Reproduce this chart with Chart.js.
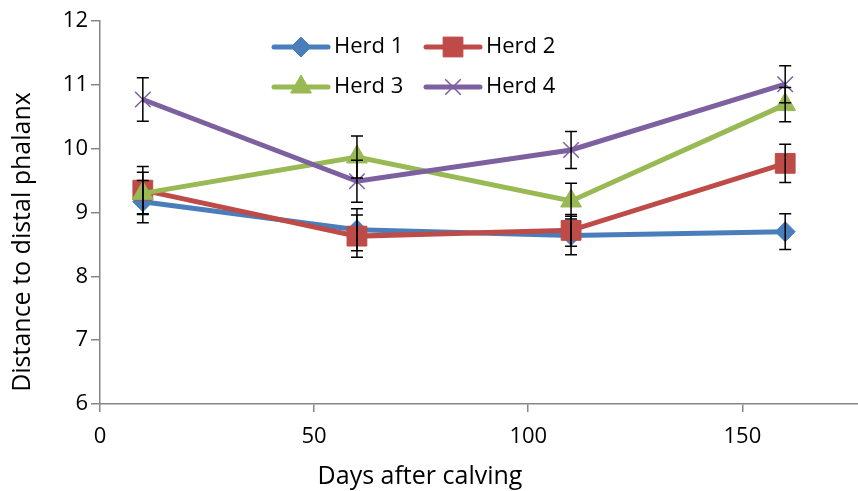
<!DOCTYPE html>
<html>
<head>
<meta charset="utf-8">
<script src="https://cdn.jsdelivr.net/npm/chart.js@4.4.0/dist/chart.umd.min.js"></script>
<style>
    html, body { margin: 0; padding: 0; background: #fff; }
    #wrap { width: 858px; height: 491px; position: relative; }
</style>
</head>
<body>
<div id="wrap"><canvas id="chart"></canvas></div>
<script>
// data
const days = [10, 60, 110, 160];
const herd1 = [9.17, 8.73, 8.64, 8.70];
const herd2 = [9.35, 8.63, 8.72, 9.77];
const herd3 = [9.30, 9.87, 9.18, 10.69];
const herd4 = [10.77, 9.49, 9.98, 11.01];
const err1 = [0.33, 0.33, 0.30, 0.28];
const err2 = [0.37, 0.33, 0.25, 0.30];
const err3 = [0.33, 0.33, 0.28, 0.27];
const err4 = [0.34, 0.33, 0.29, 0.29];
const seriesNames = ['Herd 1', 'Herd 2', 'Herd 3', 'Herd 4'];
const xTicks = [0, 50, 100, 150];
const yTicks = [6, 7, 8, 9, 10, 11, 12];
const xTitle = 'Days after calving';
const yTitle = 'Distance to distal phalanx';

const AXIS_COLOR = '#868686';
const FONT = "'Open Sans', sans-serif";
const STYLES = [
    { color: '#4a7ebb', pointStyle: 'rectRot', radius: 10, border: 1 },
    { color: '#be4b48', pointStyle: 'rect', radius: 14, border: 1 },
    { color: '#98b954', pointStyle: 'triangle', radius: 12, border: 1 },
    { color: '#7d60a0', pointStyle: 'crossRot', radius: 11, border: 1.5 }
];

const values = [herd1, herd2, herd3, herd4];
const errors = [err1, err2, err3, err4];

Chart.defaults.font.family = FONT;
Chart.defaults.font.size = 22;
Chart.defaults.color = '#000';

const datasets = values.map((vals, i) => ({
    label: seriesNames[i],
    data: days.map((d, j) => ({ x: d, y: vals[j] })),
    borderColor: STYLES[i].color,
    backgroundColor: STYLES[i].color,
    borderWidth: 5,
    pointStyle: STYLES[i].pointStyle,
    pointRadius: STYLES[i].radius,
    pointBorderWidth: STYLES[i].border,
    pointBackgroundColor: STYLES[i].color,
    pointBorderColor: STYLES[i].color,
    tension: 0,
    order: 4 - i
}));

const errorBars = {
    id: 'errorBars',
    afterDatasetsDraw(chart) {
        const { ctx, scales: { x, y } } = chart;
        ctx.save();
        ctx.strokeStyle = '#000';
        ctx.lineWidth = 1.5;
        errors.forEach((errs, i) => {
            days.forEach((d, j) => {
                const px = x.getPixelForValue(d);
                const top = y.getPixelForValue(values[i][j] + errs[j]);
                const bot = y.getPixelForValue(values[i][j] - errs[j]);
                ctx.beginPath();
                ctx.moveTo(px, top); ctx.lineTo(px, bot);
                ctx.moveTo(px - 6, top); ctx.lineTo(px + 6, top);
                ctx.moveTo(px - 6, bot); ctx.lineTo(px + 6, bot);
                ctx.stroke();
            });
        });
        ctx.restore();
    }
};

const insideLegend = {
    id: 'insideLegend',
    afterDraw(chart) {
        const ctx = chart.ctx;
        const cols = [274, 426];
        const rows = [47, 87];
        ctx.save();
        seriesNames.forEach((name, i) => {
            const s = STYLES[i];
            const x0 = cols[i % 2], y0 = rows[Math.floor(i / 2)];
            ctx.strokeStyle = s.color;
            ctx.lineWidth = 5;
            ctx.lineCap = 'round';
            ctx.beginPath();
            ctx.moveTo(x0, y0); ctx.lineTo(x0 + 54, y0);
            ctx.stroke();
            ctx.lineCap = 'butt';
            ctx.fillStyle = s.color;
            ctx.lineWidth = s.border;
            Chart.helpers.drawPoint(ctx, {
                pointStyle: s.pointStyle, radius: s.radius, rotation: 0, borderWidth: s.border
            }, x0 + 27, y0);
            ctx.fillStyle = '#000';
            ctx.font = '22px ' + FONT;
            ctx.textAlign = 'left';
            ctx.textBaseline = 'middle';
            ctx.fillText(name, x0 + 60, y0);
        });
        ctx.restore();
    }
};

const axisTitles = {
    id: 'axisTitles',
    afterDraw(chart) {
        const ctx = chart.ctx;
        ctx.save();
        ctx.fillStyle = '#000';
        ctx.font = '25px ' + FONT;
        ctx.textAlign = 'center';
        ctx.textBaseline = 'middle';
        ctx.fillText(xTitle, 420, 477);
        ctx.translate(23, 242);
        ctx.rotate(-Math.PI / 2);
        ctx.fillText(yTitle, 0, 0);
        ctx.restore();
    }
};

new Chart(document.getElementById('chart'), {
    type: 'line',
    data: { datasets },
    plugins: [errorBars, insideLegend, axisTitles],
    options: {
        responsive: true,
        maintainAspectRatio: false,
        animation: false,
        layout: { autoPadding: false, padding: { top: 21, right: 0, left: 0, bottom: 0 } },
        plugins: { legend: { display: false }, tooltip: { enabled: false } },
        scales: {
            x: {
                type: 'linear',
                min: 0,
                max: 177,
                afterBuildTicks: scale => { scale.ticks = xTicks.map(v => ({ value: v })); },
                afterFit: scale => { scale.height = 87; scale.paddingRight = 0; scale.paddingLeft = 0; },
                ticks: { padding: 12, font: { size: 22 }, color: '#000' },
                grid: { display: true, drawOnChartArea: false, drawTicks: true, tickLength: 8, color: AXIS_COLOR, lineWidth: 1.5 },
                border: { color: AXIS_COLOR, width: 1.5 }
            },
            y: {
                min: 6,
                max: 12,
                afterBuildTicks: scale => { scale.ticks = yTicks.map(v => ({ value: v })); },
                afterFit: scale => { scale.width = 100; },
                ticks: { padding: 3, font: { size: 22 }, color: '#000' },
                grid: { display: true, drawOnChartArea: false, drawTicks: true, tickLength: 9, color: AXIS_COLOR, lineWidth: 1.5 },
                border: { color: AXIS_COLOR, width: 1.5 }
            }
        }
    }
});
</script>
</body>
</html>
